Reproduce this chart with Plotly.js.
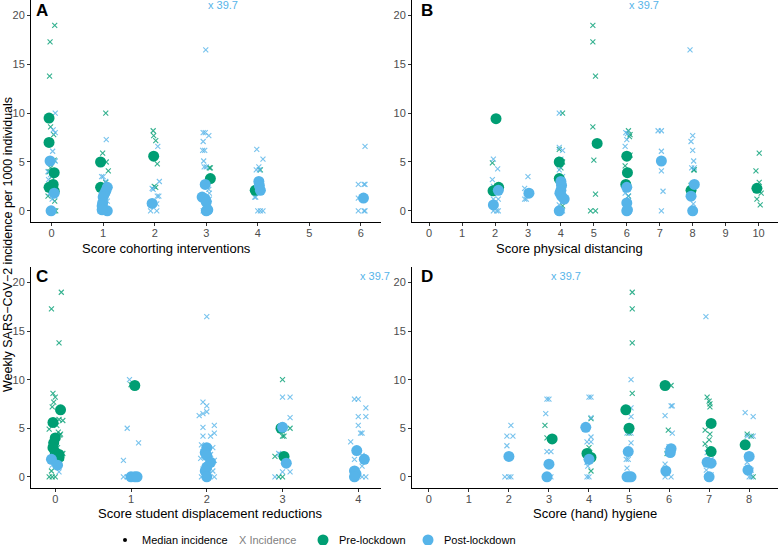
<!DOCTYPE html>
<html>
<head>
<meta charset="utf-8">
<script src="https://cdn.plot.ly/plotly-3.0.1.min.js"></script>
<style>
  body { margin: 0; background: #fff; }
  #plot { width: 778px; height: 545px; }
</style>
</head>
<body>
<div id="plot"></div>
<script>
// A: score cohorting interventions
var cohPreX = [0.06, -0.03, -0.04, -0.02, 0.04, 0.05, -0.02, -0.05, 0.0, 0.05, -0.07, 0.06, 0.05, 0.08,
  1.05, 0.99, 1.06, 1.1, 1.05, 1.02, 1.97, 1.98, 2.02, 2.05, 1.99, 2.02, 3.08, 3.06, 4.05, 3.97];
var cohPreY = [19.0, 17.3, 13.8, 8.6, 7.8, 5.2, 4.4, 4.0, 3.5, 2.8, 1.5, 1.0, 0, 0,
  10.0, 5.9, 5.0, 4.1, 2.9, 0.7, 8.2, 7.7, 7.2, 4.8, 2.5, 2.4, 4.4, 4.4, 4.2, 2.1];
var cohPostX = [0.07, 0.03, 0.07, 0.02, 0.07, -0.07, -0.02, -0.06, 0.03, -0.04, 0.06, 0.01, -0.03, 0.02,
  1.06, 0.97, 1.0, 1.05, 1.04, 0.94, 0.98, 1.04, 1.08,
  2.06, 2.09, 1.95, 1.97, 2.05, 2.08, 2.04, 1.92, 2.04,
  2.99, 2.94, 2.98, 3.05, 2.94, 2.93, 2.97, 2.95, 2.96, 3.0, 3.05, 3.06, 2.95, 3.06, 3.05, 2.94, 3.06,
  3.98, 4.1, 4.02, 3.97, 4.03, 4.06, 3.94, 3.96, 4.0, 4.05, 4.1,
  6.08, 5.95, 6.06, 6.08, 5.95, 6.08, 5.95, 6.06, 6.08];
var cohPostY = [10.0, 8.3, 8.0, 6.1, 5.1, 4.0, 3.7, 3.2, 2.0, 1.8, 1.5, 1.2, 0, 0,
  7.3, 3.5, 3.5, 3.0, 2.5, 0, 0, 0, 1.0,
  6.6, 3.0, 2.3, 2.2, 1.5, 1.5, 0.7, 0, 0,
  16.5, 8.0, 8.0, 7.7, 7.1, 6.2, 6.2, 5.1, 4.5, 4.5, 2.2, 1.8, 1.5, 1.2, 0.7, 0, 0,
  6.3, 5.3, 4.5, 4.2, 4.2, 3.0, 1.4, 1.4, 0, 0, 0,
  6.6, 2.7, 2.7, 2.7, 1.3, 1.3, 0, 0, 0];
var cohPreMedX = [-0.05, -0.05, 0.05, 0.03, -0.05, 0.02, 0.05, 0.95, 0.95, 1.98, 3.08, 3.95];
var cohPreMedY = [9.5, 7.0, 3.9, 2.7, 2.4, 2.3, 2.0, 5.0, 2.4, 5.6, 3.3, 2.1];
var cohPostMedX = [-0.03, 0.05, -0.01, 1.08, 1.05, 1.02, 1.0, 0.99, 0.98, 1.08, 0.98,
  1.95, 2.98, 2.92, 2.98, 3.0, 3.0, 3.03, 4.02, 4.03, 4.05, 6.05];
var cohPostMedY = [5.1, 1.8, 0.0, 2.4, 2.0, 1.7, 1.4, 0.8, 0.5, 0.0, 0.1,
  0.75, 2.7, 1.4, 1.2, 0.9, 0.0, 0.1, 3.0, 2.6, 2.1, 1.3];

// B: score physical distancing
var physPreX = [1.92, 2.05, 4.05, 3.95, 4.05, 4.0, 4.02, 3.98, 4.05,
  4.97, 4.97, 5.05, 4.97, 5.0, 5.05, 4.9, 5.05,
  6.05, 6.1, 6.08, 6.1, 5.95, 6.0, 6.05, 5.98, 8.03, 8.05, 7.95,
  10.02, 9.92, 10.02, 10.08, 9.95, 10.05];
var physPreY = [4.9, 2.5, 10.0, 6.3, 5.0, 4.4, 2.9, 1.5, 0.5,
  19.0, 17.3, 13.8, 8.6, 5.2, 1.7, 0, 0,
  8.2, 7.8, 7.6, 5.7, 4.6, 3.9, 1.5, 2.2, 4.2, 4.2, 2.6,
  5.9, 4.1, 2.9, 1.8, 1.2, 0.6];
var physPostX = [1.95, 2.08, 1.92, 1.95, 1.95, 2.1, 1.95, 2.05, 2.1,
  3.0, 2.9, 2.95, 2.9, 2.95,
  3.95, 3.95, 4.05, 4.0, 3.95, 4.05, 3.95, 4.05, 3.92,
  5.97, 6.0, 5.95, 5.95, 5.95, 6.05, 6.05, 5.97, 6.05, 6.02,
  6.95, 7.05, 7.05, 7.05, 7.1, 7.05,
  7.92, 8.0, 7.95, 8.0, 8.03, 7.97, 8.05, 8.0, 7.95, 8.02, 8.05, 7.95];
var physPostY = [5.3, 4.3, 3.2, 2.5, 1.2, 1.2, 0, 0, 0,
  3.5, 2.3, 1.8, 1.2, 1.2,
  10.0, 6.5, 6.2, 5.3, 4.2, 3.5, 0.6, 0, 0,
  8.0, 7.3, 6.6, 2.8, 1.8, 1.5, 0.3, 0, 0, 7.9,
  8.2, 8.2, 6.1, 4.1, 2.0, 0,
  16.5, 7.7, 7.1, 6.2, 5.1, 4.4, 4.4, 2.0, 1.4, 0.7, 0, 0];
var physPreMedX = [2.03, 1.94, 2.11, 3.95, 3.95, 5.1, 6.0, 6.02, 5.97, 7.95, 9.95];
var physPreMedY = [9.44, 2.05, 2.4, 5.0, 3.3, 6.9, 5.6, 3.9, 2.7, 2.1, 2.3];
var physPostMedX = [2.1, 1.95, 3.03, 4.0, 4.02, 4.0, 3.97, 4.02, 4.1, 3.95,
  6.0, 6.0, 6.0, 6.02, 7.05, 8.05, 7.95, 8.0];
var physPostMedY = [2.1, 0.6, 1.8, 3.0, 2.6, 2.1, 1.8, 1.5, 1.2, 0,
  2.4, 0.8, 0.0, 0.1, 5.1, 2.7, 1.5, 0];

// C: score student displacement reductions
var dispPreX = [0.08, -0.05, 0.05, -0.03, 0.0, -0.02, -0.04, 0.05, 0.1, 0.02, -0.08, 0.04, 0.06, -0.02,
  0.03, 0.1, 0.08, 0.06, -0.05, -0.08, -0.04, 0.0, 0.07,
  1.0, 3.0, 3.1, 3.0, 3.02, 2.9, 2.95, 3.0];
var dispPreY = [19.0, 17.3, 13.8, 8.6, 8.2, 7.7, 7.2, 5.9, 5.8, 5.3, 4.9, 4.6, 4.3, 3.8,
  3.0, 2.4, 1.9, 1.5, 0.6, 0, 0, 0, 4.4,
  9.5, 10.0, 5.0, 4.2, 4.2, 2.1, 0, 0];
var dispPostX = [-0.06, -0.03, 0.05, -0.04, 0.05,
  0.98, 0.95, 1.1, 0.9, 0.9, 0.95, 1.05, 1.1,
  2.0, 1.95, 2.0, 2.0, 1.95, 1.9, 2.1, 1.95, 2.1, 1.95, 2.05, 1.93, 2.08, 1.95, 2.05, 1.92,
  2.1, 2.0, 1.95, 2.08, 1.93, 2.1, 2.03,
  3.0, 3.1, 3.1, 2.95, 3.05, 3.0, 3.1, 2.9, 2.97,
  3.95, 4.0, 4.1, 4.0, 4.1, 4.0, 4.03, 4.05, 3.9, 3.95, 4.05, 4.05, 4.1, 4.05];
var dispPostY = [3.3, 2.5, 1.9, 1.2, 0.5,
  10.0, 5.0, 3.5, 1.7, 0, 0, 0, 0,
  16.5, 7.7, 7.3, 6.7, 6.5, 6.3, 5.3, 5.1, 4.5, 4.2, 4.2, 3.3, 3.0, 2.6, 2.3, 1.9,
  1.7, 1.2, 0.8, 0.6, 0, 0, 0.3,
  8.2, 8.2, 6.1, 2.4, 1.5, 0.5, 0.5, 0, 2.3,
  8.0, 8.0, 7.1, 6.2, 6.2, 5.3, 4.5, 4.5, 3.6, 1.8, 1.1, 0, 0, 2.2];
var dispPreMedX = [0.07, -0.03, 0.0, -0.02, -0.03, 0.0, 0.05, 0.05, 1.05, 2.98, 3.02];
var dispPreMedY = [6.9, 5.6, 4.0, 3.5, 3.0, 2.5, 2.3, 2.0, 9.4, 5.0, 2.1];
var dispPostMedX = [-0.05, 0.03, 1.0, 1.05, 1.08, 2.0, 1.98, 2.0, 2.05, 2.0, 1.98, 2.0,
  3.0, 3.05, 3.98, 4.08, 3.95, 3.97, 3.95];
var dispPostMedY = [1.8, 1.2, 0, 0, 0, 3.0, 2.5, 2.2, 1.5, 1.0, 0.6, 0,
  5.1, 1.4, 2.7, 1.8, 0.6, 0.3, 0];

// D: score (hand) hygiene
var hygPreX = [2.9, 2.95, 4.05, 4.0, 4.02, 4.05, 5.08, 5.08, 5.08, 5.08, 5.0,
  6.05, 5.98, 5.95, 6.95, 7.0, 7.02, 7.02, 6.9, 7.02, 7.0, 6.9, 6.97, 7.95, 8.05, 8.1];
var hygPreY = [5.3, 4.0, 6.0, 3.0, 2.5, 0.6, 19.0, 17.3, 13.8, 8.6, 4.5,
  9.4, 4.8, 2.4, 8.2, 7.8, 7.5, 7.2, 4.8, 4.4, 3.8, 3.4, 2.9, 4.4, 4.2, 0];
var hygPostX = [2.05, 1.95, 2.1, 1.95, 1.9, 2.0, 2.05,
  2.95, 3.0, 2.92, 2.95, 3.05, 3.05,
  4.0, 4.05, 4.05, 4.05, 3.95, 4.05, 3.95, 3.97, 3.95, 4.0,
  5.05, 5.05, 5.05, 4.95, 5.05, 5.05, 4.93, 4.98, 4.95, 4.95,
  6.05, 6.08, 5.9, 6.08, 6.0, 5.9, 5.9, 6.05, 5.95,
  6.92, 6.95, 7.05, 6.93, 7.05, 6.95,
  7.9, 8.1, 7.95, 8.1, 7.97, 7.95, 8.05, 8.05, 8.0];
var hygPostY = [5.3, 4.2, 4.2, 3.2, 0, 0, 0,
  8.0, 8.0, 6.5, 2.6, 2.6, 0,
  8.2, 8.2, 6.1, 4.1, 3.6, 3.6, 1.5, 1.1, 0, 0,
  10.0, 7.1, 6.2, 4.5, 4.5, 3.5, 1.8, 1.8, 0.9, 0,
  7.3, 7.3, 6.3, 4.5, 3.1, 1.3, 0, 0, 2.7,
  16.5, 2.5, 1.8, 0.7, 0.2, 0,
  6.6, 6.2, 4.2, 4.2, 2.2, 1.5, 0.7, 0, 0];
var hygPreMedX = [3.08, 3.95, 4.05, 4.92, 5.0, 5.9, 7.05, 7.05, 7.9];
var hygPreMedY = [3.9, 2.4, 2.0, 6.9, 5.0, 9.4, 5.5, 2.6, 3.3];
var hygPostMedX = [2.0, 3.0, 2.95, 3.92, 4.0, 4.98, 4.95, 5.0, 5.05,
  6.05, 6.03, 5.92, 6.95, 7.05, 7.0, 8.0, 7.97];
var hygPostMedY = [2.1, 1.3, 0, 5.1, 1.8, 2.6, 0, 0, 0,
  2.9, 2.5, 0.6, 1.5, 1.4, 0, 2.1, 0.7];

// score where the 39.7 outlier sits, per panel
var outlierScore = [3, 6, 4, 3];
var outlierValue = 39.7;

var green = '#009E73';
var blue = '#56B4E9';
var W = 778, H = 545;

function crosses(x, y, ax, col) {
  return {
    x: x, y: y, xaxis: 'x' + ax, yaxis: 'y' + ax,
    type: 'scatter', mode: 'markers', hoverinfo: 'skip',
    marker: { symbol: 'x-thin-open', size: 5, color: col, opacity: 0.8, line: { width: 1.1, color: col } }
  };
}
function dots(x, y, ax, col) {
  return {
    x: x, y: y, xaxis: 'x' + ax, yaxis: 'y' + ax,
    type: 'scatter', mode: 'markers', hoverinfo: 'skip',
    marker: { symbol: 'circle', size: 11, color: col, line: { width: 0 } }
  };
}

var data = [
  crosses(cohPreX, cohPreY, '', green), crosses(cohPostX, cohPostY, '', blue),
  dots(cohPreMedX, cohPreMedY, '', green), dots(cohPostMedX, cohPostMedY, '', blue),
  crosses(physPreX, physPreY, '2', green), crosses(physPostX, physPostY, '2', blue),
  dots(physPreMedX, physPreMedY, '2', green), dots(physPostMedX, physPostMedY, '2', blue),
  crosses(dispPreX, dispPreY, '3', green), crosses(dispPostX, dispPostY, '3', blue),
  dots(dispPreMedX, dispPreMedY, '3', green), dots(dispPostMedX, dispPostMedY, '3', blue),
  crosses(hygPreX, hygPreY, '4', green), crosses(hygPostX, hygPostY, '4', blue),
  dots(hygPreMedX, hygPreMedY, '4', green), dots(hygPostMedX, hygPostMedY, '4', blue)
];

var tickFont = { family: 'Liberation Sans, Arial, sans-serif', size: 11, color: '#4d4d4d' };
function xax(dom, rng, maxTick) {
  var tv = [];
  for (var i = 0; i <= maxTick; i++) tv.push(i);
  return {
    domain: dom, range: rng, tickvals: tv, showgrid: false, zeroline: false,
    showline: true, linecolor: '#000', linewidth: 1, ticks: 'outside', ticklen: 3,
    tickcolor: '#333', tickfont: tickFont, ticklabelstandoff: -2, fixedrange: true
  };
}
function yax(dom, anchor) {
  return {
    domain: dom, range: [-1.15, 21.6], tickvals: [0, 5, 10, 15, 20], showgrid: false, zeroline: false,
    showline: true, linecolor: '#000', linewidth: 1, ticks: 'outside', ticklen: 3,
    tickcolor: '#333', tickfont: tickFont, anchor: anchor, fixedrange: true
  };
}

var leftDom = [31 / W, 381 / W], rightDom = [412 / W, 1];
var topDom = [1 - 222 / H, 1], botDom = [1 - 488 / H, 1 - 267 / H];

var font = 'Liberation Sans, Arial, sans-serif';
function paperText(txt, px, py, opts) {
  var a = {
    text: txt, xref: 'paper', yref: 'paper', x: px / W, y: 1 - py / H,
    showarrow: false, xanchor: 'center', yanchor: 'middle',
    font: { family: font, size: 13, color: '#000' }
  };
  for (var k in opts) a[k] = opts[k];
  return a;
}

var annotations = [
  paperText('<b>A</b>', 42, 10, { font: { family: font, size: 17, color: '#000' } }),
  paperText('<b>B</b>', 427, 10, { font: { family: font, size: 17, color: '#000' } }),
  paperText('<b>C</b>', 42, 276, { font: { family: font, size: 17, color: '#000' } }),
  paperText('<b>D</b>', 427, 276, { font: { family: font, size: 17, color: '#000' } }),
  paperText('Score cohorting interventions', 166, 248),
  paperText('Score physical distancing', 569, 248),
  paperText('Score student displacement reductions', 210, 513),
  paperText('Score (hand) hygiene', 595, 513),
  paperText('Weekly SARS\u2212CoV\u22122 incidence per 1000 individuals', 8, 245,
    { textangle: -90, font: { family: font, size: 12.5, color: '#000' } }),
  paperText('Median incidence', 140, 540, { xanchor: 'left', font: { family: font, size: 11, color: '#000' } }),
  paperText('X Incidence', 237, 540, { xanchor: 'left', font: { family: font, size: 11, color: '#7f7f7f' } }),
  paperText('Pre-lockdown', 337, 540, { xanchor: 'left', font: { family: font, size: 11, color: '#000' } }),
  paperText('Post-lockdown', 442, 540, { xanchor: 'left', font: { family: font, size: 11, color: '#000' } })
];

var axSuffix = ['', '2', '3', '4'];
var outY = [21.1, 21.1, 20.7, 20.7];
for (var i = 0; i < 4; i++) {
  annotations.push({
    text: 'x ' + outlierValue, xref: 'x' + axSuffix[i], yref: 'y' + axSuffix[i],
    x: outlierScore[i], y: outY[i], showarrow: false, xanchor: 'left', yanchor: 'middle',
    font: { family: font, size: 11, color: blue }
  });
}

function circ(cx, cy, r, col) {
  return {
    type: 'circle', xref: 'paper', yref: 'paper',
    x0: (cx - r) / W, x1: (cx + r) / W, y0: 1 - (cy + r) / H, y1: 1 - (cy - r) / H,
    fillcolor: col, line: { width: 0 }
  };
}

var layout = {
  width: W,
  height: H,
  margin: { l: 0, r: 0, t: 0, b: 0 },
  paper_bgcolor: '#fff',
  plot_bgcolor: '#fff',
  showlegend: false,
  font: { family: font },
  xaxis: xax(leftDom, [-0.40, 6.39], 6),
  yaxis: yax(topDom, 'x'),
  xaxis2: xax(rightDom, [-0.52, 10.59], 10),
  yaxis2: yax(topDom, 'x2'),
  xaxis3: xax(leftDom, [-0.32, 4.30], 4),
  yaxis3: yax(botDom, 'x3'),
  xaxis4: xax(rightDom, [-0.42, 8.72], 8),
  yaxis4: yax(botDom, 'x4'),
  annotations: annotations,
  shapes: [circ(125, 540, 2, '#000'), circ(323, 540, 5.5, green), circ(428, 540, 5.5, blue)]
};
layout.xaxis.anchor = 'y';
layout.xaxis2.anchor = 'y2';
layout.xaxis3.anchor = 'y3';
layout.xaxis4.anchor = 'y4';

Plotly.newPlot('plot', data, layout, { displayModeBar: false, staticPlot: true });
</script>
</body>
</html>
